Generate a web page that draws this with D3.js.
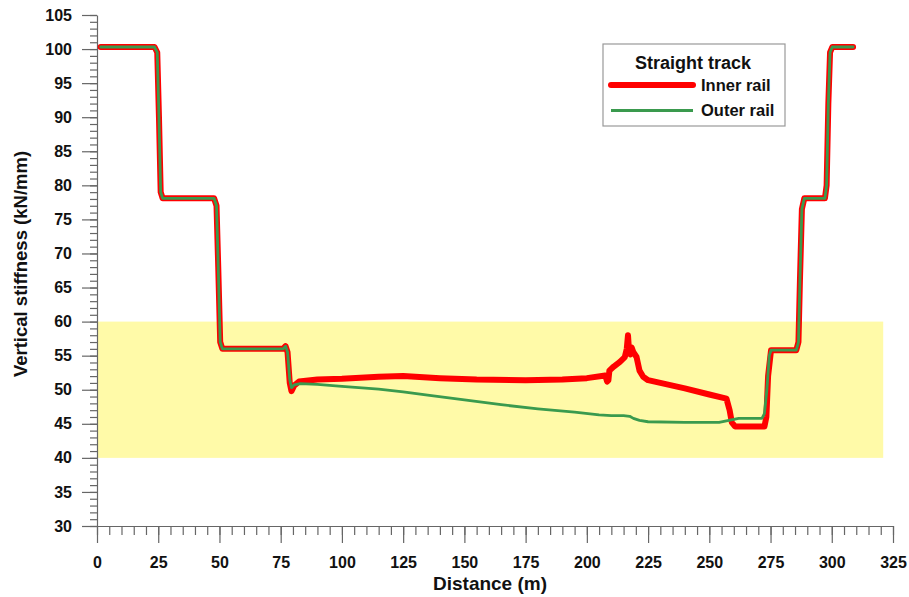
<!DOCTYPE html>
<html>
<head>
<meta charset="utf-8">
<script src="https://cdn.jsdelivr.net/npm/d3@7"></script>
<style>
  html, body { margin: 0; padding: 0; background: #fff; }
  svg { display: block; }
  .tick text { font-family: "Liberation Sans", Arial, Helvetica, sans-serif; font-weight: bold; font-size: 16px; fill: #111; }
  .axis path, .axis line { stroke: #666; stroke-width: 1.2; }
  .lbl { font-family: "Liberation Sans", Arial, Helvetica, sans-serif; font-weight: bold; fill: #111; }
</style>
</head>
<body>
<svg id="chart" width="909" height="597"></svg>
<script>
// Vertical stiffness along a straight track section (inner and outer rail)
const innerDist = [1.5, 23.5, 24.6, 25.3, 26, 26.8, 47.8, 48.8, 49.5, 50.3, 51.2, 76, 77, 77.8, 78.7, 79.4, 80.5, 82.5, 90, 100, 115, 125, 140, 155, 175, 190, 200, 207.5, 208.3, 208.8, 209.2, 211, 213.5, 215.5, 216.3, 216.8, 217.3, 217.8, 218.3, 219, 220.3, 221.5, 223, 225, 240, 250, 257, 258.3, 259.2, 260.5, 272.5, 273.3, 274, 275.2, 285.5, 286.4, 287, 287.8, 288.8, 297.2, 297.9, 298.6, 299.3, 300.2, 308.7];
const innerVal  = [100.3, 100.3, 99.5, 90, 79, 78.1, 78.1, 77, 68, 57, 56, 56, 56.4, 55.5, 51, 49.8, 50.6, 51.2, 51.5, 51.6, 51.9, 52, 51.7, 51.5, 51.4, 51.5, 51.7, 52.1, 51.2, 51.4, 52.8, 53.4, 54.1, 54.8, 56, 58, 55.3, 55.2, 56.2, 55.5, 54.8, 52.8, 51.9, 51.4, 50.2, 49.3, 48.7, 47, 45.2, 44.6, 44.6, 46, 52, 55.8, 55.8, 57, 66, 76.5, 78.1, 78.1, 80, 92, 99.5, 100.3, 100.3];

const outerDist = [1.5, 23.5, 24.6, 25.3, 26, 26.8, 47.8, 48.8, 49.5, 50.3, 51.2, 76, 77, 77.8, 78.7, 79.4, 80.5, 83, 90, 100, 115, 125, 135, 150, 165, 180, 195, 205, 210, 215, 217.5, 219, 221.5, 225, 240, 254, 258, 262, 271.5, 272.5, 273.5, 274.5, 275.2, 285.5, 286.4, 287, 287.8, 288.8, 297.2, 297.9, 298.6, 299.3, 300.2, 308.7];
const outerVal  = [100.3, 100.3, 99.5, 90, 79, 78.1, 78.1, 77, 68, 57, 56, 56, 56.4, 55.5, 51.5, 50.3, 50.7, 50.9, 50.8, 50.5, 50.1, 49.7, 49.2, 48.5, 47.8, 47.2, 46.7, 46.3, 46.2, 46.2, 46.1, 45.8, 45.5, 45.3, 45.2, 45.2, 45.5, 45.8, 45.8, 46.5, 50, 55, 55.8, 55.8, 57, 66, 76.5, 78.1, 78.1, 80, 92, 99.5, 100.3, 100.3];

// Recommended stiffness range shown as a shaded band
const bandRange = [40, 60];
const bandDist  = [0, 321];

const xMajorTicks = d3.range(0, 326, 25);
const xMinorTicks = d3.range(0, 326, 5);
const yMajorTicks = d3.range(30, 106, 5);
const yMinorTicks = d3.range(30, 106, 1);

const seriesNames = ["Inner rail", "Outer rail"];
const legendTitle = "Straight track";

const svg = d3.select("#chart");
const x = d3.scaleLinear().domain([0, 325]).range([97, 893]);
const y = d3.scaleLinear().domain([30, 105]).range([526, 15]);

// shaded band
svg.append("rect")
  .attr("x", x(bandDist[0])).attr("width", x(bandDist[1]) - x(bandDist[0]))
  .attr("y", y(bandRange[1])).attr("height", y(bandRange[0]) - y(bandRange[1]))
  .attr("fill", "#fffaa8");

// axes: minor ticks first, then major ticks with labels
svg.append("g").attr("class", "axis")
  .attr("transform", `translate(0,${y(30)})`)
  .call(d3.axisBottom(x).tickValues(xMinorTicks).tickSize(9).tickFormat(""))
  .call(g => g.select(".domain").remove());
svg.append("g").attr("class", "axis")
  .attr("transform", `translate(0,${y(30)})`)
  .call(d3.axisBottom(x).tickValues(xMajorTicks).tickSize(17).tickSizeOuter(0).tickPadding(14).tickFormat(d3.format("d")));

svg.append("g").attr("class", "axis")
  .attr("transform", `translate(${x(0)},0)`)
  .call(d3.axisLeft(y).tickValues(yMinorTicks).tickSize(7).tickFormat(""))
  .call(g => g.select(".domain").remove());
svg.append("g").attr("class", "axis")
  .attr("transform", `translate(${x(0)},0)`)
  .call(d3.axisLeft(y).tickValues(yMajorTicks).tickSize(15).tickSizeOuter(0).tickPadding(10).tickFormat(d3.format("d")));

// axis titles
svg.append("text").attr("class", "lbl")
  .attr("x", 490).attr("y", 590).attr("text-anchor", "middle")
  .style("font-size", "19px").text("Distance (m)");
svg.append("text").attr("class", "lbl")
  .attr("transform", "translate(27,264) rotate(-90)")
  .attr("text-anchor", "middle")
  .style("font-size", "18.5px").text("Vertical stiffness (kN/mm)");

// lines
const line = d3.line().x(d => x(d[0])).y(d => y(d[1]));
const innerPts = innerDist.map((d, i) => [d, innerVal[i]]);
const outerPts = outerDist.map((d, i) => [d, outerVal[i]]);

svg.append("path").datum(innerPts).attr("d", line)
  .attr("fill", "none").attr("stroke", "#ff0000").attr("stroke-width", 6)
  .attr("stroke-linejoin", "round").attr("stroke-linecap", "round");
svg.append("path").datum(outerPts).attr("d", line)
  .attr("fill", "none").attr("stroke", "#3a9a4e").attr("stroke-width", 2.8)
  .attr("stroke-linejoin", "round").attr("stroke-linecap", "round");

// legend
const lg = svg.append("g");
lg.append("rect").attr("x", 603).attr("y", 44).attr("width", 182).attr("height", 82)
  .attr("fill", "#fff").attr("stroke", "#999").attr("stroke-width", 1.2);
lg.append("text").attr("class", "lbl").attr("x", 693).attr("y", 69)
  .attr("text-anchor", "middle").style("font-size", "18px").text(legendTitle);
lg.append("line").attr("x1", 611).attr("x2", 693).attr("y1", 85).attr("y2", 85)
  .attr("stroke", "#ff0000").attr("stroke-width", 6).attr("stroke-linecap", "round");
lg.append("line").attr("x1", 611).attr("x2", 693).attr("y1", 110.5).attr("y2", 110.5)
  .attr("stroke", "#3a9a4e").attr("stroke-width", 2.8);
lg.append("text").attr("class", "lbl").attr("x", 701).attr("y", 91)
  .style("font-size", "16.5px").text(seriesNames[0]);
lg.append("text").attr("class", "lbl").attr("x", 701).attr("y", 116)
  .style("font-size", "16.5px").text(seriesNames[1]);
</script>
</body>
</html>
